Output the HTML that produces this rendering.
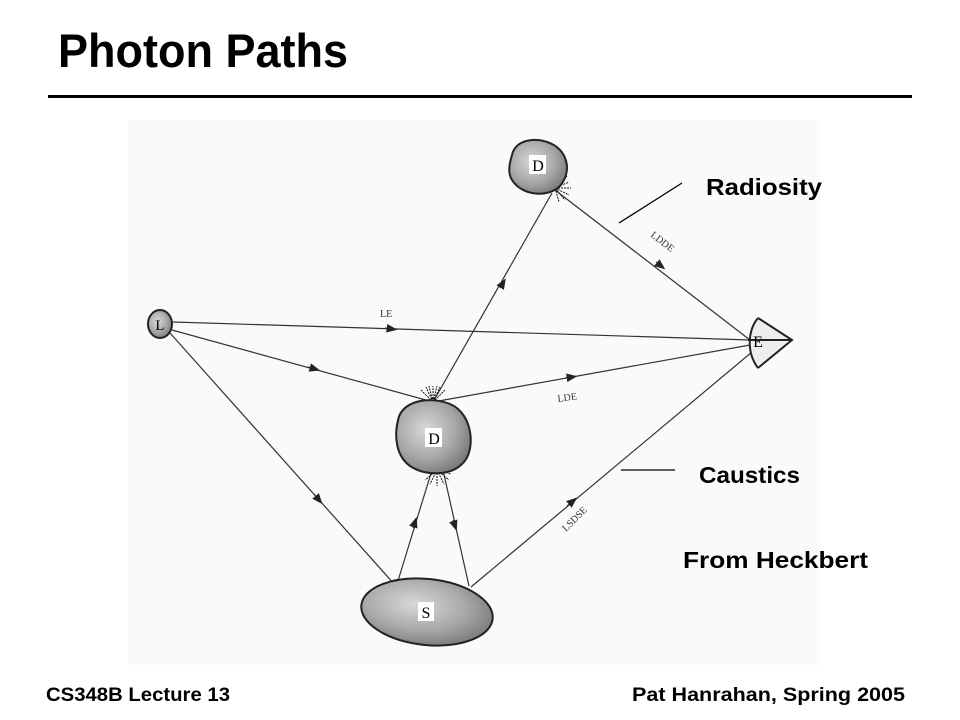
<!DOCTYPE html>
<html><head><meta charset="utf-8"><style>
html,body{margin:0;padding:0;background:#fff;}
svg{display:block}
</style></head><body>
<svg width="960" height="720" viewBox="0 0 960 720" xmlns="http://www.w3.org/2000/svg">
<defs>
<radialGradient id="g" cx="40%" cy="40%" r="65%">
<stop offset="0" stop-color="#d8d8d8"/><stop offset="0.6" stop-color="#a8a8a8"/><stop offset="1" stop-color="#7a7a7a"/>
</radialGradient>
<marker id="a" viewBox="0 0 10 10" refX="5" refY="5" markerWidth="9" markerHeight="9" orient="auto"><path d="M0,1 L10,5 L0,9 z" fill="#222"/></marker>
</defs>
<rect width="960" height="720" fill="#fff"/>
<text x="58" y="67" font-family="Liberation Sans, sans-serif" font-weight="bold" font-size="47" textLength="290" lengthAdjust="spacingAndGlyphs">Photon Paths</text>
<rect x="48" y="95" width="864" height="3" fill="#000"/>
<rect x="128" y="120" width="692" height="545" fill="#fafafa"/>

<g stroke="#333" stroke-width="1.2" fill="none">
<line x1="173" y1="322" x2="750" y2="340"/>
<line x1="172" y1="330" x2="433" y2="402"/>
<line x1="170" y1="333" x2="395" y2="585"/>
<line x1="433" y1="402" x2="552" y2="193"/>
<line x1="555" y1="190" x2="750" y2="340"/>
<line x1="433" y1="402" x2="750" y2="345"/>
<line x1="397" y1="584" x2="432" y2="470"/>
<line x1="443" y1="470" x2="469" y2="586"/>
<line x1="471" y1="587" x2="752" y2="352"/>
<path d="M385,328 L392,329" marker-end="url(#a)"/>
<path d="M308,367 L315,369" marker-end="url(#a)"/>
<path d="M314,494 L319,500" marker-end="url(#a)"/>
<path d="M500,288 L503,283" marker-end="url(#a)"/>
<path d="M656,262 L661,266" marker-end="url(#a)"/>
<path d="M565,378 L572,377" marker-end="url(#a)"/>
<path d="M413,528 L415,522" marker-end="url(#a)"/>
<path d="M453,520 L455,526" marker-end="url(#a)"/>
<path d="M567,506 L573,501" marker-end="url(#a)"/>
<g stroke="#111" stroke-width="1" stroke-dasharray="2,1">
<path d="M433,402 l-12,-12 M433,402 l-7,-15 M433,402 l0,-16 M433,402 l7,-15 M433,402 l12,-12 M433,402 l-4,-16 M433,402 l4,-16"/>
<path d="M437,470 l-12,10 M437,470 l-7,14 M437,470 l0,16 M437,470 l7,14 M437,470 l12,10 M437,470 l14,4"/>
<path d="M555,188 l14,-6 M555,188 l16,0 M555,188 l14,7 M555,188 l10,12 M555,188 l4,14 M555,188 l12,-12"/>
</g>
</g>

<g stroke="#222" stroke-width="2" fill="url(#g)">
<path d="M512,155 C515,140 535,136 552,144 C568,152 572,172 560,186 C548,198 522,196 512,180 C507,172 510,162 512,155 z"/>
<ellipse cx="160" cy="324" rx="12" ry="14"/>
<path d="M398,420 C402,400 430,396 450,404 C474,414 476,452 462,464 C450,476 425,476 410,466 C396,456 394,436 398,420 z"/>
<ellipse cx="427" cy="612" rx="66" ry="33" transform="rotate(6 427 612)"/>
</g>
<path d="M758,318 C748,330 746,352 758,368 M748,340 L792,340 M758,318 L792,340 L758,368" stroke="#222" stroke-width="2" fill="#eee"/>
<g font-family="Liberation Serif, serif" font-size="16" text-anchor="middle">
<rect x="529" y="155" width="17" height="19" fill="#fff"/><text x="538" y="171">D</text>
<text x="160" y="330" font-size="15">L</text>
<rect x="425" y="428" width="17" height="19" fill="#fff"/><text x="434" y="444">D</text>
<rect x="418" y="602" width="16" height="19" fill="#fff"/><text x="426" y="618">S</text>
<text x="758" y="347">E</text>
</g>
<g font-family="Liberation Serif, serif" font-size="10" fill="#333">
<text x="380" y="317">LE</text>
<text x="558" y="402" transform="rotate(-8 558 402)">LDE</text>
<text x="650" y="236" transform="rotate(38 650 236)">LDDE</text>
<text x="566" y="532" transform="rotate(-45 566 532)">LSDSE</text>
</g>
<g stroke="#000" stroke-width="1.3">
<line x1="682" y1="183" x2="619" y2="223"/>
<line x1="675" y1="470" x2="621" y2="470"/>
</g>
<g font-family="Liberation Sans, sans-serif" font-weight="bold" font-size="23">
<text x="706" y="195" textLength="116" lengthAdjust="spacingAndGlyphs">Radiosity</text>
<text x="699" y="483" textLength="101" lengthAdjust="spacingAndGlyphs">Caustics</text>
<text x="683" y="568" textLength="185" lengthAdjust="spacingAndGlyphs">From Heckbert</text>
</g>
<g font-family="Liberation Sans, sans-serif" font-weight="bold" font-size="19">
<text x="46" y="701" textLength="184" lengthAdjust="spacingAndGlyphs">CS348B Lecture 13</text>
<text x="632" y="701" textLength="273" lengthAdjust="spacingAndGlyphs">Pat Hanrahan, Spring 2005</text>
</g>
</svg>
</body></html>
